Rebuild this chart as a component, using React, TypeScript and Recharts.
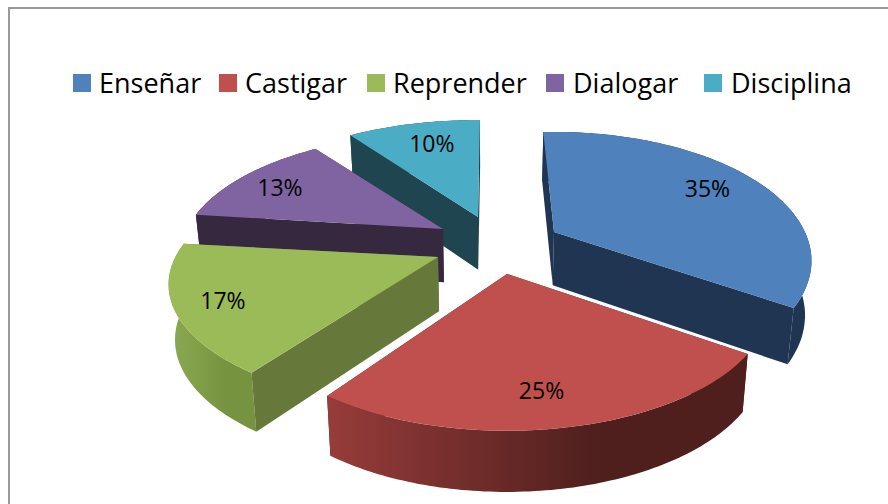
import { PieChart, Pie, Legend } from 'recharts';

const categories = ['Enseñar', 'Castigar', 'Reprender', 'Dialogar', 'Disciplina'];
const values = [35, 25, 17, 13, 10];
const topColors = ['#4F81BD', '#C0504D', '#9BBB59', '#8064A2', '#4BACC6'];
const wallColors = ['#1F3552', '#4F1F1D', '#67793A', '#35283F', '#1F4650'];
// outer rim shading, left to right
const rimColors = [
  ['#1F3552', '#1F3552'],
  ['#973C3A', '#4E1F1D'],
  ['#8CAA52', '#76933F'],
  ['#35283F', '#35283F'],
  ['#1F4650', '#1F4650'],
];

// exploded slices: where each tip sits relative to the pie centre
const tipDx = [64, 17, -52, -47, -12];
const tipDy = [-3, 39, 22, -6, -18];
// the source's perspective is not a clean ellipse, so each slice gets a small correction
const sliceScale = [0.965, 0.985, 1.01, 0.985, 1];
const sliceSquash = [1.07, 1.04, 0.97, 1, 1];
const sliceTurn = [-3, -1, -0.5, 0, 0.5];
const labelRadius = [0.75, 0.8, 0.82, 0.8, 0.72];
const labelDx = [-8, -5, -4, 1, 4];
const labelDy = [-6, 2, 1, 2, -4];
const legendSwatchX = [73, 219, 367, 546, 704];
const legendTextX = [99, 245, 393, 573, 731];

// drawn back to front, so the pie runs counter-clockwise from the top
const chartData = categories
  .map((name, slot) => ({ name, value: values[slot], slot, fill: topColors[slot] }))
  .reverse();

const FONT = '"Open Sans", sans-serif';
const SQUASH = 0.4565;
const TILT = 0.224;
const VANISH_X = 490;

function project(theta: number, rho: number, R: number, squash = 1) {
  const a = (theta * Math.PI) / 180;
  const u = rho * Math.sin(a);
  const v = -rho * Math.cos(a);
  const d = 1 - TILT * v;
  return { x: (R * u) / d, y: (R * SQUASH * squash * v) / d };
}

function lower(p: { x: number; y: number }) {
  return { x: VANISH_X + (p.x - VANISH_X) * 0.98, y: p.y + 44 + 0.04 * p.y };
}

function toPath(points: { x: number; y: number }[]) {
  return points.map((p, i) => `${i ? 'L' : 'M'}${p.x.toFixed(1)},${p.y.toFixed(1)}`).join(' ') + ' Z';
}

function Slice3D(props: any) {
  const { cx, cy, startAngle, endAngle, outerRadius, slot } = props;
  const from = 90 - Math.max(startAngle, endAngle);
  const to = 90 - Math.min(startAngle, endAngle);
  const R = outerRadius * sliceScale[slot];
  const turn = sliceTurn[slot];
  const tip = { x: cx + tipDx[slot], y: cy + tipDy[slot] };
  const rim: { x: number; y: number }[] = [];
  for (let t = from; t < to; t += 1) {
    const p = project(t + turn, 1, R, sliceSquash[slot]);
    rim.push({ x: tip.x + p.x, y: tip.y + p.y });
  }
  const last = project(to + turn, 1, R, sliceSquash[slot]);
  rim.push({ x: tip.x + last.x, y: tip.y + last.y });

  const rimLow = rim.map(lower).reverse();
  const wall = (edge: { x: number; y: number }) => toPath([tip, edge, lower(edge), lower(tip)]);
  const first = rim[0];
  const end = rim[rim.length - 1];
  // a cut face shows only when it points towards the viewer
  const firstFront = -Math.sin((from * Math.PI) / 180) > 0.001;
  const endFront = Math.sin((to * Math.PI) / 180) > 0.001;
  const gradId = `rim-${slot}`;

  return (
    <g>
      <defs>
        <linearGradient id={gradId} x1="0" y1="0" x2="1" y2="0">
          <stop offset="0" stopColor={rimColors[slot][0]} />
          <stop offset="0.65" stopColor={rimColors[slot][1]} />
          <stop offset="1" stopColor={rimColors[slot][1]} />
        </linearGradient>
      </defs>
      {!firstFront && <path d={wall(first)} fill={wallColors[slot]} />}
      {!endFront && <path d={wall(end)} fill={wallColors[slot]} />}
      <path d={toPath([...rim, ...rimLow])} fill={`url(#${gradId})`} />
      {firstFront && <path d={wall(first)} fill={wallColors[slot]} />}
      {endFront && <path d={wall(end)} fill={wallColors[slot]} />}
      <path d={toPath([tip, ...rim])} fill={topColors[slot]} />
    </g>
  );
}

function SliceLabel(props: any) {
  const { cx, cy, midAngle, outerRadius, percent, index } = props;
  const slot = chartData[index].slot;
  const p = project(90 - midAngle, labelRadius[slot], outerRadius);
  return (
    <text
      x={cx + tipDx[slot] + p.x + labelDx[slot]}
      y={cy + tipDy[slot] + p.y + labelDy[slot]}
      textAnchor="middle"
      dominantBaseline="central"
      fontFamily={FONT}
      fontSize={23}
      fill="#000"
    >
      {`${Math.round(percent * 100)}%`}
    </text>
  );
}

function LegendRow() {
  return (
    <div style={{ position: 'relative', width: 888, height: 40, fontFamily: FONT, fontSize: 27, color: '#000' }}>
      {categories.map((name, i) => (
        <span key={name}>
          <span
            style={{ position: 'absolute', left: legendSwatchX[i], top: 11, width: 18, height: 18, background: topColors[i] }}
          />
          <span style={{ position: 'absolute', left: legendTextX[i], top: 0, lineHeight: '40px', whiteSpace: 'nowrap' }}>
            {name}
          </span>
        </span>
      ))}
    </div>
  );
}

export default function App() {
  return (
    <div style={{ position: 'absolute', left: 0, top: 0, width: 888, height: 504, background: '#fff', overflow: 'hidden' }}>
      <div
        style={{
          position: 'absolute',
          left: 8,
          top: 7,
          width: 900,
          height: 520,
          borderLeft: '2px solid #999',
          borderTop: '2px solid #999',
        }}
      />
      <div style={{ position: 'absolute', left: 0, top: 0 }}>
        <PieChart width={888} height={504} margin={{ top: 0, right: 0, bottom: 0, left: 0 }}>
          <Legend
            content={<LegendRow />}
            verticalAlign="top"
            wrapperStyle={{ left: 0, top: 63, width: 888 }}
          />
          <Pie
            data={chartData}
            dataKey="value"
            nameKey="name"
            cx={490}
            cy={195}
            outerRadius={260}
            startAngle={90}
            endAngle={450}
            stroke="none"
            labelLine={false}
            label={SliceLabel}
            shape={Slice3D}
            isAnimationActive={false}
          />
        </PieChart>
      </div>
    </div>
  );
}
